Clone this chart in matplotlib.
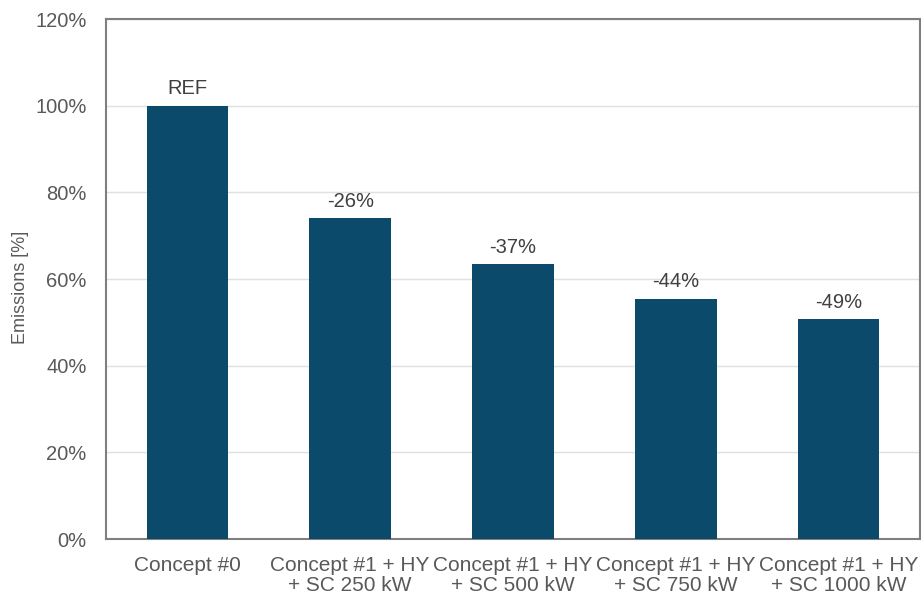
import matplotlib.pyplot as plt
import numpy as np

# Данные
categories = ["Concept #0", "Concept #1 + HY\n+ SC 250 kW", "Concept #1 + HY\n+ SC 500 kW",
              "Concept #1 + HY\n+ SC 750 kW", "Concept #1 + HY\n+ SC 1000 kW"]
emissions = [100, 74.0, 63.4, 55.5, 50.8]
bar_labels = ["REF", "-26%", "-37%", "-44%", "-49%"]
y_ticks = [0, 20, 40, 60, 80, 100, 120]

plt.rcParams['font.family'] = ['Liberation Sans', 'DejaVu Sans']

fig = plt.figure(figsize=(9.21, 5.99), dpi=100)
ax = fig.add_axes([0.115, 0.1, 0.884, 0.868])

x = np.arange(len(categories))
ax.bar(x, emissions, width=0.5, color='#0b4a6a', zorder=3)

for xi, val, lab in zip(x, emissions, bar_labels):
    ax.text(xi, val + 1.7, lab, ha='center', va='bottom', fontsize=14.5, color='#404040')

ax.set_xlim(-0.5, len(categories) - 0.5)
ax.set_ylim(0, 120)
ax.set_yticks(y_ticks)
ax.set_yticklabels([f"{t}%" for t in y_ticks])
ax.set_xticks(x)
ax.set_xticklabels(categories, fontsize=15, color='#595959', linespacing=1.1)
ax.tick_params(axis='y', labelsize=14.5, labelcolor='#595959', length=0, pad=14)
ax.tick_params(axis='x', length=0, pad=12)
ax.set_ylabel('Emissions [%]', fontsize=13, color='#595959')
ax.yaxis.set_label_coords(-0.094, 0.485)

ax.grid(axis='y', color='#e0e0e0', linewidth=1, zorder=0)
for s in ax.spines.values():
    s.set_color('#7f7f7f')
    s.set_linewidth(1.5)

fig.savefig('out.png', dpi=100)
